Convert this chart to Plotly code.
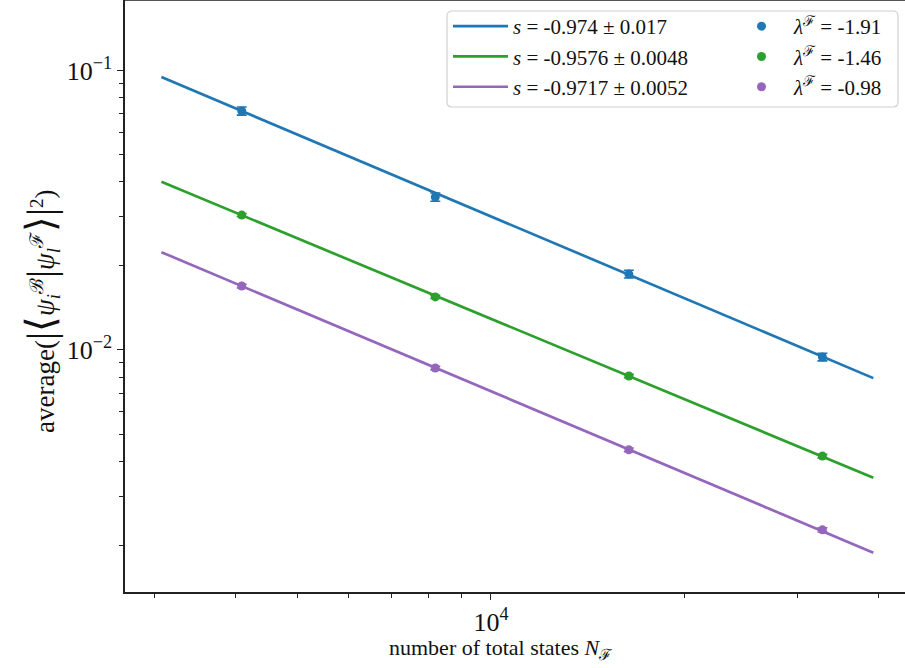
import plotly.graph_objects as go

# ---------------- data ----------------
N_states = [4096, 8192, 16384, 32768]

blue_y = [0.0717, 0.0353, 0.0187, 0.00944]
blue_err = [0.0024, 0.0012, 0.0006, 0.0003]
green_y = [0.0304, 0.01549, 0.00807, 0.00417]
green_err = [0.0004, 0.0002, 0.00011, 0.00006]
purple_y = [0.01694, 0.00862, 0.00439, 0.00227]
purple_err = [0.00025, 0.00013, 0.00007, 0.00004]

fit_x = [3072, 39322]
fit_blue = [0.0949, 0.00793]
fit_green = [0.0400, 0.00349]
fit_purple = [0.0224, 0.00188]

fit_labels = ["<i>s</i> = -0.974 ± 0.017",
              "<i>s</i> = -0.9576 ± 0.0048",
              "<i>s</i> = -0.9717 ± 0.0052"]
lam_labels = ["<i>λ</i><sup>ℱ</sup> = -1.91",
              "<i>λ</i><sup>ℱ</sup> = -1.46",
              "<i>λ</i><sup>ℱ</sup> = -0.98"]

x_major = [1e4]
x_major_text = ["10<sup>4</sup>"]
x_minor = [3000, 4000, 5000, 6000, 7000, 8000, 9000, 20000, 30000, 40000]
y_major = [0.1, 0.01]
y_major_text = ["10<sup>−1</sup>", "10<sup>−2</sup>"]
y_minor = [0.002, 0.003, 0.004, 0.005, 0.006, 0.007, 0.008, 0.009,
           0.02, 0.03, 0.04, 0.05, 0.06, 0.07, 0.08, 0.09]

colors = ["#1f77b4", "#2ca02c", "#9467bd"]
FONT = "Liberation Serif, Times New Roman, serif"

# ---------------- figure ----------------
W, H = 905, 668
ML, MR, MT, MB = 125, 0, 0, 76
PW, PH = W - ML - MR, H - MT - MB

fig = go.Figure()

fits = [fit_blue, fit_green, fit_purple]
pts = [(blue_y, blue_err), (green_y, green_err), (purple_y, purple_err)]

for i in range(3):
    fig.add_trace(go.Scatter(
        x=fit_x, y=fits[i], mode="lines",
        line=dict(color=colors[i], width=2.7),
        name=fit_labels[i], legend="legend"))

for i in range(3):
    yv, ye = pts[i]
    fig.add_trace(go.Scatter(
        x=N_states, y=yv, mode="markers",
        marker=dict(color=colors[i], size=9),
        error_y=dict(type="data", array=ye, visible=True,
                     color=colors[i], thickness=1.6, width=5),
        name=lam_labels[i], legend="legend2"))

def px2paper(px, py):
    return (px - ML) / PW, 1 - (py - MT) / PH

# rounded legend frame
x0, y0, x1, y1, r = 447, 11, 898, 107, 5
def P(px, py):
    a, b = px2paper(px, py)
    return f"{a:.5f},{b:.5f}"
path = (f"M {P(x0+r,y0)} L {P(x1-r,y0)} Q {P(x1,y0)} {P(x1,y0+r)} "
        f"L {P(x1,y1-r)} Q {P(x1,y1)} {P(x1-r,y1)} L {P(x0+r,y1)} "
        f"Q {P(x0,y1)} {P(x0,y1-r)} L {P(x0,y0+r)} Q {P(x0,y0)} {P(x0+r,y0)} Z")
fig.add_shape(type="path", path=path, xref="paper", yref="paper",
              line=dict(color="#d0d0d0", width=1.2),
              fillcolor="rgba(255,255,255,0.8)", layer="above")

# top frame line
fig.add_shape(type="line", xref="paper", yref="paper", x0=0, x1=1, y0=1, y1=1,
              line=dict(color="#555555", width=2), layer="above")

lx, ly = px2paper(448, 6)
l2x, _ = px2paper(729, 6)
leg_common = dict(yanchor="top", xanchor="left", bgcolor="rgba(0,0,0,0)",
                  borderwidth=0, font=dict(family=FONT, size=21, color="#111"),
                  tracegroupgap=0, itemwidth=55)

fig.update_layout(
    width=W, height=H,
    margin=dict(l=ML, r=MR, t=MT, b=MB, autoexpand=False),
    paper_bgcolor="white", plot_bgcolor="white",
    font=dict(family=FONT, color="#111"),
    showlegend=True,
    legend=dict(x=lx, y=ly, **leg_common),
    legend2=dict(x=l2x, y=ly, **leg_common),
    xaxis=dict(type="log", range=[3.4308, 4.6439], automargin=False,
               showgrid=False, zeroline=False,
               showline=True, linecolor="#222", linewidth=1.6,
               ticks="outside", ticklen=6, tickwidth=1.2, tickcolor="#222",
               tickmode="array", tickvals=x_major, ticktext=x_major_text,
               tickfont=dict(family=FONT, size=26, color="#111"),
               minor=dict(ticks="outside", ticklen=4, tickwidth=1, tickcolor="#222",
                          tickmode="array", tickvals=x_minor, showgrid=False)),
    yaxis=dict(type="log", range=[-2.8665, -0.7469], automargin=False,
               showgrid=False, zeroline=False,
               showline=True, linecolor="#222", linewidth=1.6,
               ticks="outside", ticklen=6, tickwidth=1.2, tickcolor="#222",
               tickmode="array", tickvals=y_major, ticktext=y_major_text,
               tickfont=dict(family=FONT, size=26, color="#111"),
               minor=dict(ticks="outside", ticklen=4, tickwidth=1, tickcolor="#222",
                          tickmode="array", tickvals=y_minor, showgrid=False)),
)

fig.add_annotation(text="number of total states <i>N</i><sub>ℱ</sub>",
                   xref="paper", yref="paper", x=(501 - ML) / PW, y=-(649 - PH) / PH,
                   xanchor="center", yanchor="middle", showarrow=False,
                   font=dict(family=FONT, size=22, color="#111"))
big = '<span style="font-size:40px">'
ylab = (f"average({big}|⟨</span><i>ψ</i><sub><i>i</i></sub><sup>ℬ</sup>"
        f"{big}|</span><i>ψ</i><sub><i>l</i></sub><sup>ℱ</sup>{big}⟩|</span><sup>2</sup>)")
fig.add_annotation(text=ylab,
                   xref="paper", yref="paper", x=-(ML - 41) / PW, y=1 - (312 - MT) / PH,
                   xanchor="center", yanchor="middle", showarrow=False, textangle=-90,
                   font=dict(family=FONT, size=27, color="#111"))

fig.write_html("out.html", config={"displayModeBar": False},
               post_script="document.body.style.margin='0';document.body.style.overflow='hidden';")
